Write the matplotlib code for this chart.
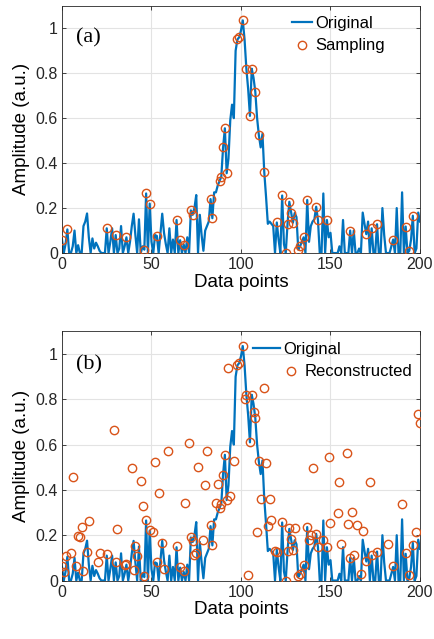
import matplotlib
matplotlib.use("Agg")
import matplotlib.pyplot as plt
import numpy as np

# Original signal, one value per data point (0..200)
original = [
    0.06, 0.00, 0.04, 0.105, 0.00, 0.00, 0.03, 0.10, 0.00, 0.035,
    0.00, 0.00, 0.12, 0.14, 0.176, 0.07, 0.00, 0.065, 0.02, 0.046,
    0.03, 0.01, 0.00, 0.00, 0.00, 0.11, 0.00, 0.05, 0.11, 0.00,
    0.08, 0.00, 0.02, 0.12, 0.00, 0.03, 0.07, 0.00, 0.05, 0.12,
    0.175, 0.08, 0.00, 0.15, 0.00, 0.03, 0.015, 0.265, 0.00, 0.22,
    0.05, 0.00, 0.08, 0.076, 0.00, 0.09, 0.175, 0.09, 0.04, 0.00,
    0.11, 0.00, 0.06, 0.00, 0.147, 0.00, 0.057, 0.00, 0.038, 0.00,
    0.07, 0.00, 0.19, 0.17, 0.20, 0.258, 0.00, 0.17, 0.08, 0.01,
    0.10, 0.12, 0.14, 0.24, 0.155, 0.27, 0.27, 0.30, 0.32, 0.34,
    0.47, 0.555, 0.355, 0.42, 0.59, 0.66, 0.60, 0.90, 0.95, 0.96,
    0.99, 1.035, 0.95, 0.82, 0.73, 0.61, 0.82, 0.78, 0.717, 0.60,
    0.523, 0.47, 0.53, 0.36, 0.25, 0.13, 0.14, 0.13, 0.12, 0.00,
    0.136, 0.06, 0.00, 0.256, 0.04, 0.00, 0.13, 0.228, 0.18, 0.135,
    0.178, 0.16, 0.015, 0.03, 0.05, 0.07, 0.00, 0.236, 0.05, 0.12,
    0.14, 0.15, 0.206, 0.147, 0.00, 0.00, 0.265, 0.00, 0.147, 0.07,
    0.09, 0.00, 0.00, 0.00, 0.00, 0.03, 0.00, 0.147, 0.00, 0.00,
    0.00, 0.10, 0.00, 0.10, 0.00, 0.00, 0.02, 0.00, 0.18, 0.13,
    0.084, 0.14, 0.00, 0.11, 0.00, 0.00, 0.128, 0.00, 0.00, 0.20,
    0.08, 0.00, 0.00, 0.00, 0.03, 0.06, 0.00, 0.20, 0.00, 0.00,
    0.27, 0.00, 0.118, 0.00, 0.01, 0.06, 0.166, 0.00, 0.02, 0.18,
    0.14,
]

# Indices of the sampled data points
sample_idx = [
    0, 3, 25, 30, 36, 46, 47, 49, 53, 64, 66, 68, 72, 73, 83, 84, 88, 89,
    90, 91, 92, 98, 99, 101, 103, 105, 106, 108, 110, 113, 120, 123, 125,
    126, 127, 128, 129, 132, 133, 135, 137, 142, 143, 148, 161, 170, 173,
    176, 185, 192, 194, 196,
]

# Reconstructed values at their data points
recon_idx = [
    0, 1, 2, 5, 6, 8, 9, 10, 11, 12, 14, 15, 20, 21, 25, 29, 30, 31, 35, 36,
    39, 40, 41, 42, 44, 45, 46, 47, 49, 51, 52, 53, 54, 56, 57, 59, 64, 66,
    68, 69, 71, 72, 73, 74, 75, 76, 79, 80, 81, 83, 84, 86, 87, 88, 89, 90,
    91, 92, 93, 94, 96, 98, 99, 101, 102, 103, 104, 105, 106, 107, 108, 109,
    110, 111, 113, 114, 115, 116, 117, 119, 120, 123, 125, 126, 127, 128,
    129, 130, 132, 133, 135, 137, 138, 139, 140, 142, 143, 146, 148, 149,
    150, 154, 155, 156, 159, 160, 161, 162, 163, 165, 167, 168, 170, 172,
    173, 176, 182, 185, 190, 192, 194, 196, 198, 199, 200,
]
recon_val = [
    0.065, 0.036, 0.108, 0.12, 0.457, 0.064, 0.196, 0.19, 0.237, 0.04,
    0.127, 0.262, 0.082, 0.12, 0.115, 0.664, 0.08, 0.226, 0.07, 0.075,
    0.498, 0.045, 0.154, 0.11, 0.438, 0.329, 0.02, 0.268, 0.223, 0.215,
    0.523, 0.08, 0.385, 0.167, 0.052, 0.572, 0.153, 0.06, 0.04, 0.344,
    0.608, 0.193, 0.176, 0.114, 0.12, 0.50, 0.18, 0.423, 0.572, 0.245,
    0.155, 0.344, 0.426, 0.32, 0.34, 0.466, 0.555, 0.354, 0.938, 0.373,
    0.526, 0.95, 0.96, 1.035, 0.80, 0.82, 0.024, 0.61, 0.82, 0.742,
    0.716, 0.214, 0.526, 0.36, 0.849, 0.517, 0.24, 0.36, 0.266, 0.13,
    0.127, 0.257, 0.00, 0.13, 0.23, 0.185, 0.136, 0.23, 0.02, 0.03,
    0.07, 0.236, 0.18, 0.20, 0.498, 0.205, 0.148, 0.178, 0.148, 0.544,
    0.256, 0.30, 0.436, 0.161, 0.562, 0.25, 0.10, 0.304, 0.114, 0.247,
    0.03, 0.22, 0.085, 0.436, 0.112, 0.128, 0.16, 0.066, 0.339, 0.12,
    0.025, 0.158, 0.214, 0.735, 0.694,
]

x_ticks = [0, 50, 100, 150, 200]
y_ticks = [0, 0.2, 0.4, 0.6, 0.8, 1]
y_tick_labels = ["0", "0.2", "0.4", "0.6", "0.8", "1"]

blue = "#0072BD"
orange = "#D95319"
sans = ["Liberation Sans", "DejaVu Sans"]
serif = ["Liberation Serif", "DejaVu Serif"]

plt.rcParams["font.family"] = sans

x = np.arange(len(original))
y = np.array(original)

fig = plt.figure(figsize=(4.35, 6.39), dpi=100)
ax_a = fig.add_axes([0.1425, 0.604, 0.823, 0.387])
ax_b = fig.add_axes([0.1425, 0.0915, 0.823, 0.390])


def style(ax):
    ax.set_xlim(0, 200)
    ax.set_ylim(0, 1.1)
    ax.set_xticks(x_ticks)
    ax.set_yticks(y_ticks)
    ax.set_yticklabels(y_tick_labels)
    ax.grid(True, color="#e3e3e3", linewidth=0.8)
    ax.set_axisbelow(True)
    ax.tick_params(direction="in", top=True, right=True, length=3,
                   labelsize=11.5, colors="#262626", width=0.6, pad=3)
    for s in ax.spines.values():
        s.set_color("#262626")
        s.set_linewidth(0.6)
    ax.set_xlabel("Data points", fontsize=13.5, labelpad=1)
    ax.set_ylabel("Amplitude (a.u.)", fontsize=13.5, labelpad=4)


ms = 6
mew = 1.0
leg_kw = dict(fontsize=12, frameon=False, borderpad=0, borderaxespad=0,
              handletextpad=0.2)

# (a) original signal with sampled points
line_a, = ax_a.plot(x, y, color=blue, linewidth=1.6, label="Original",
                    zorder=2)
pts_a, = ax_a.plot(sample_idx, y[sample_idx], linestyle="none", marker="o",
                   markersize=ms, markerfacecolor="none",
                   markeredgecolor=orange, markeredgewidth=mew,
                   label="Sampling", zorder=3)
style(ax_a)
ax_a.text(0.04, 0.87, "(a)", transform=ax_a.transAxes, fontsize=16,
          family=serif, va="center")
ax_a.legend(loc="upper left", bbox_to_anchor=(0.642, 0.959),
            handlelength=1.2, labelspacing=0.45, **leg_kw)

# (b) original signal with reconstructed points
line_b, = ax_b.plot(x, y, color=blue, linewidth=1.6, label="Original",
                    zorder=2)
pts_b, = ax_b.plot(recon_idx, recon_val, linestyle="none", marker="o",
                   markersize=ms, markerfacecolor="none",
                   markeredgecolor=orange, markeredgewidth=mew,
                   label="Reconstructed", zorder=3)
style(ax_b)
ax_b.text(0.04, 0.865, "(b)", transform=ax_b.transAxes, fontsize=16,
          family=serif, va="center")
leg_b1 = ax_b.legend(handles=[line_b], loc="center left",
                     bbox_to_anchor=(0.534, 0.929), handlelength=1.6,
                     **leg_kw)
ax_b.add_artist(leg_b1)
ax_b.legend(handles=[pts_b], loc="center left",
            bbox_to_anchor=(0.612, 0.837), handlelength=1.2, **leg_kw)

fig.savefig("out.png", dpi=100)
